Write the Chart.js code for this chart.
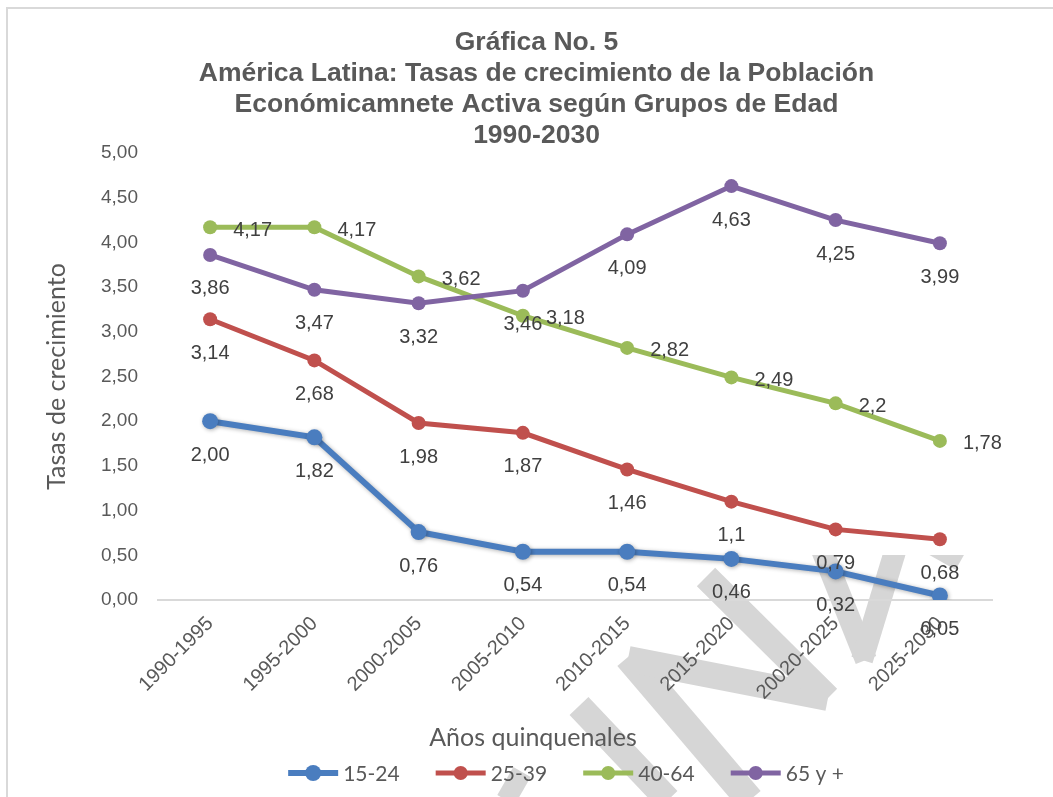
<!DOCTYPE html>
<html>
<head>
<meta charset="utf-8">
<script src="https://cdn.jsdelivr.net/npm/chart.js@4"></script>
<style>
  html, body { margin: 0; padding: 0; background: #fff; }
  #wrap { position: relative; width: 1053px; height: 797px; }
</style>
</head>
<body>
<div id="wrap"><canvas id="chart"></canvas></div>
<script>
// ===== DATA =====
const periods = ["1990-1995", "1995-2000", "2000-2005", "2005-2010", "2010-2015", "2015-2020", "20020-2025", "2025-2030"];
const age15to24 = [2.00, 1.82, 0.76, 0.54, 0.54, 0.46, 0.32, 0.05];
const age25to39 = [3.14, 2.68, 1.98, 1.87, 1.46, 1.1, 0.79, 0.68];
const age40to64 = [4.17, 4.17, 3.62, 3.18, 2.82, 2.49, 2.2, 1.78];
const age65plus = [3.86, 3.47, 3.32, 3.46, 4.09, 4.63, 4.25, 3.99];
const yTicks = [0, 0.5, 1, 1.5, 2, 2.5, 3, 3.5, 4, 4.5, 5];

const GRAY = "#595959";
const LABEL = "#404040";
const SANS = "'Liberation Sans', Arial, sans-serif";
const HUMAN = "Lato, 'Open Sans', sans-serif";

const fmtComma = (v, dec) => (dec == null ? String(v) : v.toFixed(dec)).replace(".", ",");

// border + watermark behind everything
const backdrop = {
  id: "backdrop",
  beforeDraw(chart) {
    const ctx = chart.ctx;
    ctx.save();
    ctx.strokeStyle = "#d9d9d9";
    ctx.lineWidth = 2;
    ctx.beginPath();
    ctx.moveTo(7, 797);
    ctx.lineTo(7, 8);
    ctx.lineTo(1053, 8);
    ctx.stroke();

    // faint watermark strokes
    ctx.beginPath();
    ctx.rect(0, 555, 1053, 250);
    ctx.clip();
    ctx.strokeStyle = "#d6d6d6";
    ctx.lineCap = "butt";
    const strokes = [
      [579, 706, 668, 800, 26],
      [628, 657, 750, 800, 28],
      [628, 659, 828, 698, 26],
      [706, 577, 828, 698, 26],
      [820, 545, 866, 660, 22],
      [897, 545, 862, 660, 22],
      [930, 545, 960, 562, 18],
      [522, 772, 506, 800, 20]
    ];
    strokes.forEach(s => {
      ctx.lineWidth = s[4];
      ctx.beginPath();
      ctx.moveTo(s[0], s[1]);
      ctx.lineTo(s[2], s[3]);
      ctx.stroke();
    });
    ctx.restore();
  }
};

// soft shadow on the 15-24 line
const blueShadow = {
  id: "blueShadow",
  beforeDatasetDraw(chart, args) {
    if (args.index !== 0) return;
    const ctx = chart.ctx;
    ctx.save();
    ctx.shadowColor = "rgba(0,0,0,0.3)";
    ctx.shadowBlur = 4;
    ctx.shadowOffsetX = 1;
    ctx.shadowOffsetY = 1;
  },
  afterDatasetDraw(chart, args) {
    if (args.index !== 0) return;
    chart.ctx.restore();
  }
};

// value labels
const valueLabels = {
  id: "valueLabels",
  afterDatasetsDraw(chart) {
    const ctx = chart.ctx;
    ctx.save();
    ctx.font = "20px " + SANS;
    ctx.fillStyle = LABEL;
    ctx.textBaseline = "middle";
    chart.data.datasets.forEach((ds, i) => {
      const meta = chart.getDatasetMeta(i);
      meta.data.forEach((pt, j) => {
        const txt = fmtComma(ds.data[j], ds.decimals);
        if (ds.labelPos === "right") {
          ctx.textAlign = "left";
          ctx.fillText(txt, pt.x + 23, pt.y + 3);
        } else {
          ctx.textAlign = "center";
          ctx.fillText(txt, pt.x, pt.y + 34);
        }
      });
    });
    ctx.restore();
  }
};

// axis title for x + legend, centred like the original
const bottomBlock = {
  id: "bottomBlock",
  afterDraw(chart) {
    const ctx = chart.ctx;
    ctx.save();
    ctx.fillStyle = GRAY;
    ctx.textBaseline = "middle";
    ctx.textAlign = "center";
    ctx.font = "25px " + HUMAN;
    ctx.fillText("Años quinquenales", 533, 738);

    // legend
    ctx.font = "21px " + HUMAN;
    const lineLen = 50, gapTxt = 5, gapItem = 36;
    const items = chart.data.datasets.map(ds => ({ ds, w: ctx.measureText(ds.label).width }));
    const total = items.reduce((a, it) => a + lineLen + gapTxt + it.w, 0) + gapItem * (items.length - 1);
    let x = 566 - total / 2;
    const y = 773;
    items.forEach(it => {
      ctx.strokeStyle = it.ds.borderColor;
      ctx.lineWidth = it.ds.borderWidth;
      ctx.beginPath();
      ctx.moveTo(x, y);
      ctx.lineTo(x + lineLen, y);
      ctx.stroke();
      ctx.fillStyle = it.ds.pointBackgroundColor;
      ctx.beginPath();
      ctx.arc(x + lineLen / 2, y, it.ds.pointRadius, 0, Math.PI * 2);
      ctx.fill();
      ctx.fillStyle = GRAY;
      ctx.textAlign = "left";
      ctx.fillText(it.ds.label, x + lineLen + gapTxt, y + 1);
      x += lineLen + gapTxt + it.w + gapItem;
    });
    ctx.restore();
  }
};

function series(label, data, color, extra) {
  return Object.assign({
    label,
    data,
    borderColor: color,
    backgroundColor: color,
    pointBackgroundColor: color,
    pointBorderColor: color,
    pointBorderWidth: 0,
    borderWidth: 5,
    pointRadius: 7,
    pointHoverRadius: 7,
    tension: 0,
    fill: false,
    labelPos: "below",
    decimals: null
  }, extra || {});
}

new Chart(document.getElementById("chart"), {
  type: "line",
  data: {
    labels: periods,
    datasets: [
      series("15-24", age15to24, "#4a7dbf", { decimals: 2, borderWidth: 6, pointRadius: 8, order: 4 }),
      series("25-39", age25to39, "#c0504d", { order: 3 }),
      series("40-64", age40to64, "#9bbb59", { labelPos: "right", order: 2 }),
      series("65 y +", age65plus, "#8064a2", { decimals: 2, order: 1 })
    ]
  },
  options: {
    responsive: true,
    maintainAspectRatio: false,
    animation: false,
    layout: { padding: { left: 20, right: 0, top: 0, bottom: 0 } },
    plugins: {
      legend: { display: false },
      tooltip: { enabled: false },
      title: {
        display: true,
        text: [
          "Gráfica No. 5",
          "América Latina: Tasas de crecimiento de la Población",
          "Económicamnete Activa según Grupos de Edad",
          "1990-2030"
        ],
        color: GRAY,
        font: { family: SANS, size: 26.5, weight: "bold", lineHeight: 1.17 },
        padding: { top: 27.5, bottom: 1.5 }
      }
    },
    scales: {
      x: {
        offset: true,
        grid: { display: false, drawTicks: false, offset: true },
        border: { display: true, color: "#d9d9d9", width: 2 },
        ticks: {
          color: GRAY,
          font: { family: SANS, size: 20 },
          maxRotation: 45,
          minRotation: 45,
          padding: 12,
          autoSkip: false
        },
        afterFit: s => { s.height = 197; }
      },
      y: {
        min: 0,
        max: 5,
        afterBuildTicks: s => { s.ticks = yTicks.map(v => ({ value: v })); },
        grid: { display: false, drawTicks: false },
        border: { display: false },
        ticks: {
          color: GRAY,
          font: { family: SANS, size: 19 },
          padding: 20,
          callback: v => fmtComma(v, 2)
        },
        title: {
          display: true,
          text: "Tasas de crecimiento",
          color: GRAY,
          font: { family: HUMAN, size: 25 },
          padding: { top: 22, bottom: 0 }
        },
        afterFit: s => { s.width = 138; }
      },
      y2: {
        position: "right",
        display: true,
        grid: { display: false, drawTicks: false },
        border: { display: false },
        ticks: { display: false },
        afterFit: s => { s.width = 61; }
      }
    }
  },
  plugins: [backdrop, blueShadow, valueLabels, bottomBlock]
});
</script>
</body>
</html>
